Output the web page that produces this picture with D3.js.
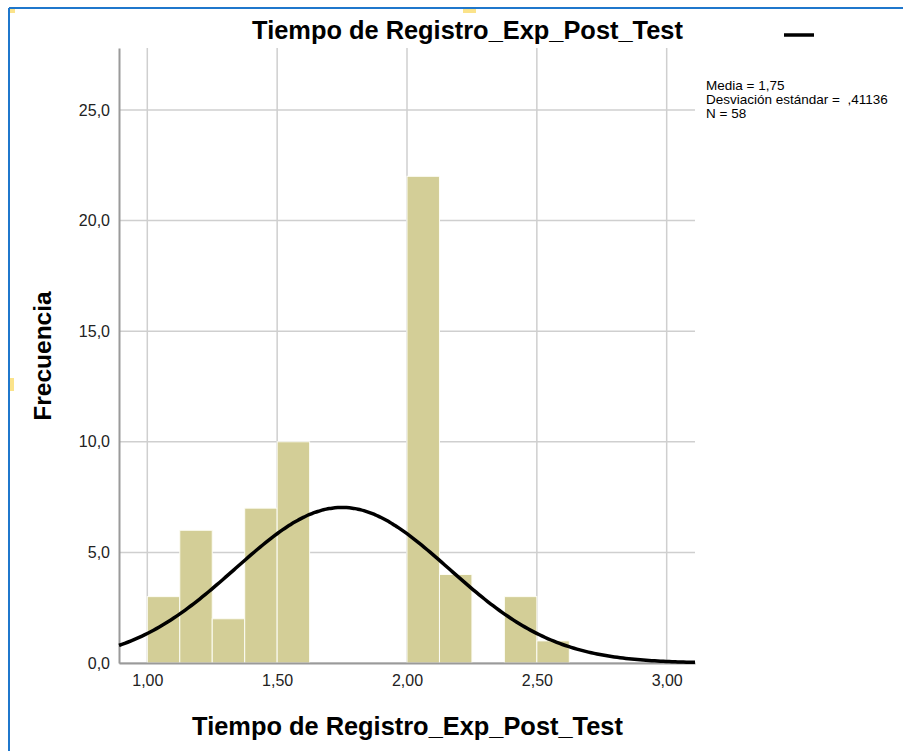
<!DOCTYPE html>
<html>
<head>
<meta charset="utf-8">
<script src="https://cdn.jsdelivr.net/npm/d3@7"></script>
<style>
  body { margin: 0; background: #fff; }
  svg { display: block; font-family: "Liberation Sans", Arial, sans-serif; }
</style>
</head>
<body>
<div id="chart"></div>
<script>
// histogram bins (lower edge) and frequencies
var binStarts = [1.000, 1.125, 1.250, 1.375, 1.500, 1.625, 1.750, 1.875, 2.000, 2.125, 2.250, 2.375, 2.500];
var counts = [3, 6, 2, 7, 10, 0, 0, 0, 22, 4, 0, 3, 1];
var binWidth = 0.125;
// summary stats shown in the legend
var media = 1.75, desv = 0.41136, n = 58;
var xTicks = [1.0, 1.5, 2.0, 2.5, 3.0];
var yTicks = [0, 5, 10, 15, 20, 25];
var legendLines = ["Media = 1,75", "Desviación estándar =  ,41136", "N = 58"];
var titulo = "Tiempo de Registro_Exp_Post_Test";

var W = 903, H = 751;
var svg = d3.select("#chart").append("svg").attr("width", W).attr("height", H);

var loc = d3.formatLocale({ decimal: ",", thousands: ".", grouping: [3], currency: ["", ""] });

var x = d3.scaleLinear().domain([0.891, 3.109]).range([119, 695]);
var y = d3.scaleLinear().domain([0, 27.8]).range([663, 48]);

// frame border (selected chart in the viewer)
svg.append("line").attr("x1", 9).attr("x2", W).attr("y1", 8).attr("y2", 8)
    .attr("stroke", "#1f77cc").attr("stroke-width", 2);
svg.append("line").attr("x1", 9).attr("x2", 9).attr("y1", 8).attr("y2", H)
    .attr("stroke", "#1f77cc").attr("stroke-width", 2);
[[10, 9, 5, 4], [463, 9, 13, 4], [10, 378, 4, 13]].forEach(function (r) {
    svg.append("rect").attr("x", r[0]).attr("y", r[1]).attr("width", r[2]).attr("height", r[3])
        .attr("fill", "#fbe38a");
});

// grid
var grid = svg.append("g");
grid.selectAll("line.h").data(yTicks).enter().append("line")
    .attr("x1", x.range()[0]).attr("x2", x.range()[1])
    .attr("y1", function (d) { return y(d) }).attr("y2", function (d) { return y(d) })
    .attr("stroke", "#cfcfcf").attr("stroke-width", 1.5);
grid.selectAll("line.v").data(xTicks).enter().append("line")
    .attr("x1", function (d) { return x(d) }).attr("x2", function (d) { return x(d) })
    .attr("y1", y.range()[1]).attr("y2", y.range()[0])
    .attr("stroke", "#cfcfcf").attr("stroke-width", 1.5);

// bars
svg.append("g").selectAll("rect")
    .data(binStarts.map(function (b, i) { return { x0: b, c: counts[i] } }).filter(function (d) { return d.c > 0 }))
    .enter()
    .append("rect")
    .attr("x", function (d) { return x(d.x0) })
    .attr("width", function (d) { return x(d.x0 + binWidth) - x(d.x0) })
    .attr("y", function (d) { return y(d.c) })
    .attr("height", function (d) { return y(0) - y(d.c) })
    .attr("fill", "#d3ce97")
    .attr("stroke", "#fdfdf5")
    .attr("stroke-width", 1);

// axes
var xAxis = d3.axisBottom(x).tickValues(xTicks).tickSize(0).tickPadding(12)
    .tickFormat(loc.format(".2f"));
var yAxis = d3.axisLeft(y).tickValues(yTicks).tickSize(0).tickPadding(9)
    .tickFormat(loc.format(".1f"));
var gx = svg.append("g").attr("transform", "translate(0," + y(0) + ")").call(xAxis);
var gy = svg.append("g").attr("transform", "translate(" + x.range()[0] + ",0)").call(yAxis);
[gx, gy].forEach(function (g) {
    g.select(".domain").attr("stroke", "#9a9a9a").attr("stroke-width", 2);
    g.selectAll("text").attr("font-size", 16).attr("fill", "#222")
        .attr("font-family", "'Liberation Sans', Arial, sans-serif");
});

// normal curve
var pts = d3.range(0, 201).map(function (i) {
    var v = x.domain()[0] + (x.domain()[1] - x.domain()[0]) * i / 200;
    var z = (v - media) / desv;
    return [v, n * binWidth / (desv * Math.sqrt(2 * Math.PI)) * Math.exp(-0.5 * z * z)];
});
svg.append("path")
    .datum(pts)
    .attr("d", d3.line().x(function (d) { return x(d[0]) }).y(function (d) { return y(d[1]) }).curve(d3.curveBasis))
    .attr("fill", "none")
    .attr("stroke", "#000")
    .attr("stroke-width", 3.5);

// titles
svg.append("text").attr("x", 467.5).attr("y", 38.5).attr("text-anchor", "middle")
    .attr("font-size", 25.4).attr("font-weight", "bold").text(titulo);
svg.append("text").attr("x", 407.5).attr("y", 735).attr("text-anchor", "middle")
    .attr("font-size", 25.4).attr("font-weight", "bold").text(titulo);
svg.append("text").attr("transform", "translate(51,356) rotate(-90)").attr("text-anchor", "middle")
    .attr("font-size", 24.5).attr("font-weight", "bold").text("Frecuencia");

// legend
svg.append("line").attr("x1", 784).attr("x2", 814).attr("y1", 35).attr("y2", 35)
    .attr("stroke", "#000").attr("stroke-width", 3.5);
svg.append("g").selectAll("text").data(legendLines).enter().append("text")
    .attr("x", 706)
    .attr("y", function (d, i) { return 89.5 + i * 14 })
    .attr("font-size", 13.5)
    .style("white-space", "pre")
    .text(function (d) { return d });
</script>
</body>
</html>
